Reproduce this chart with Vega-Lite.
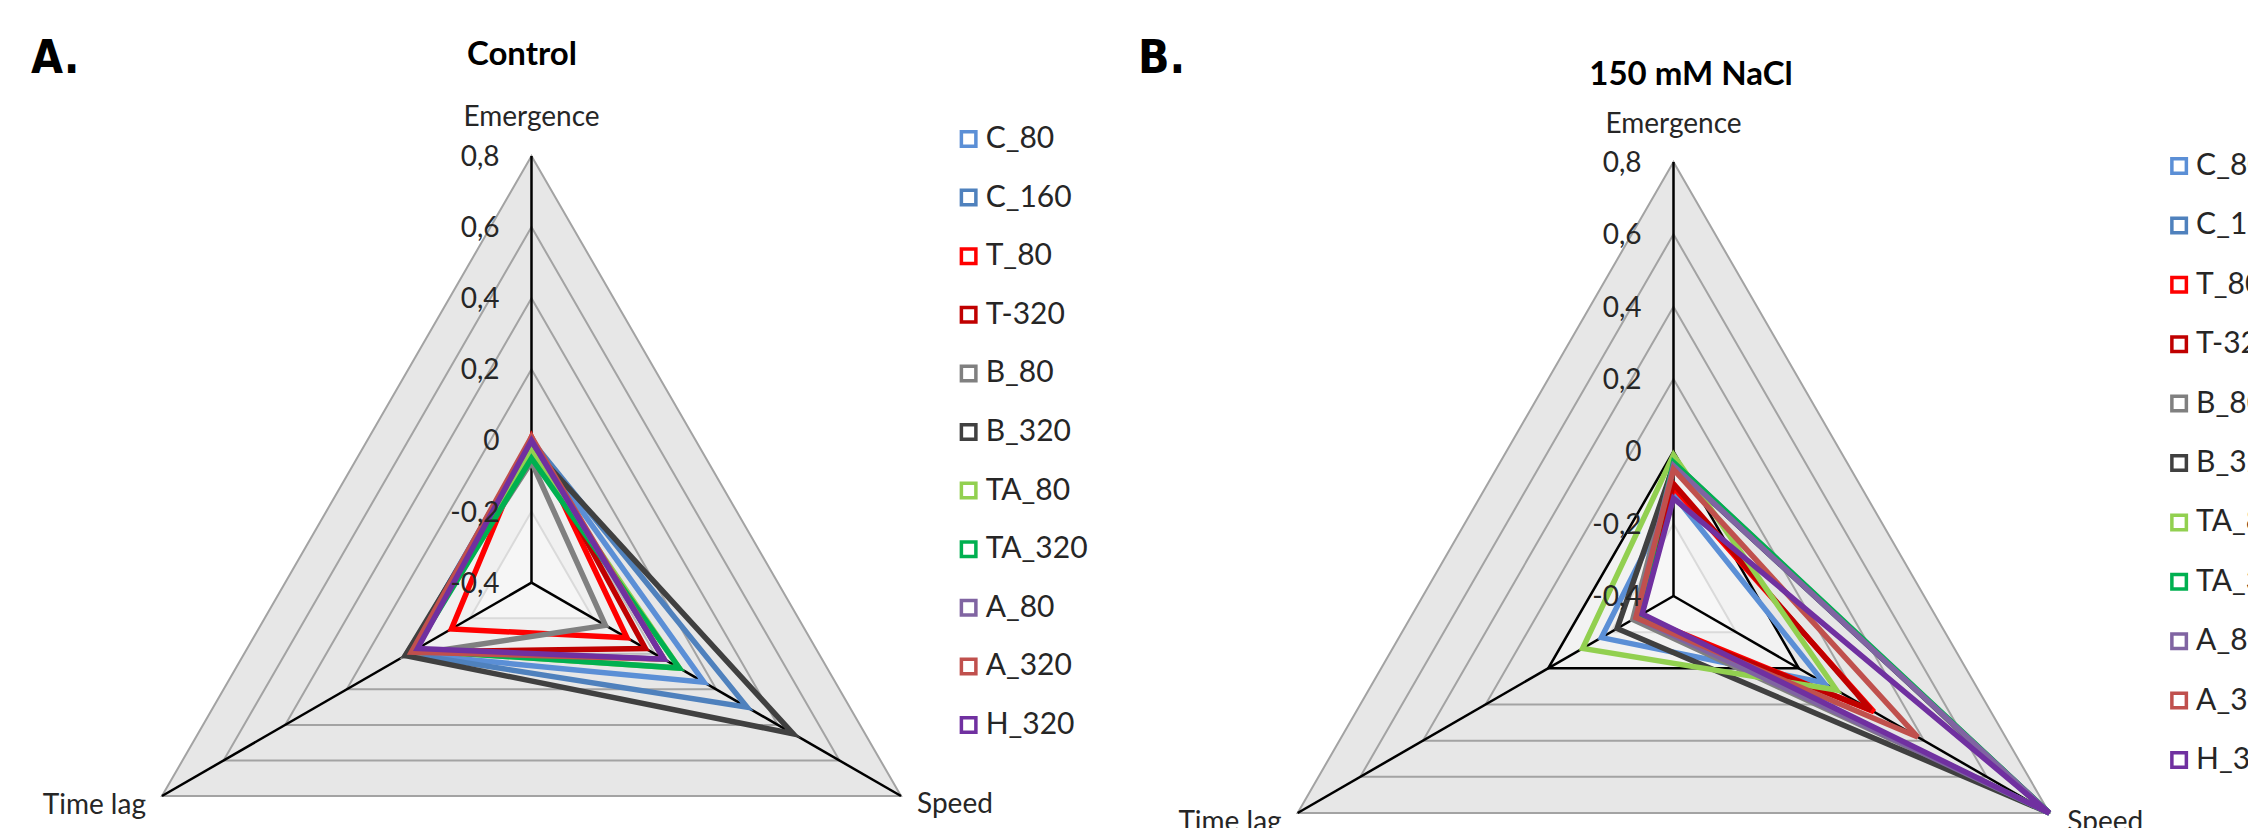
{
  "$schema": "https://vega.github.io/schema/vega-lite/v6.json",
  "padding": 0,
  "spacing": 0,
  "bounds": "flush",
  "config": {"view": {"stroke": null}, "font": "Lato"},
  "datasets": {
    "grid": [
      {"v": 0.8, "a": "Emergence"}, {"v": 0.8, "a": "Speed"}, {"v": 0.8, "a": "Time lag"},
      {"v": 0.6, "a": "Emergence"}, {"v": 0.6, "a": "Speed"}, {"v": 0.6, "a": "Time lag"},
      {"v": 0.4, "a": "Emergence"}, {"v": 0.4, "a": "Speed"}, {"v": 0.4, "a": "Time lag"},
      {"v": 0.2, "a": "Emergence"}, {"v": 0.2, "a": "Speed"}, {"v": 0.2, "a": "Time lag"},
      {"v": 0.0, "a": "Emergence"}, {"v": 0.0, "a": "Speed"}, {"v": 0.0, "a": "Time lag"},
      {"v": -0.2, "a": "Emergence"}, {"v": -0.2, "a": "Speed"}, {"v": -0.2, "a": "Time lag"}
    ],
    "axes": [{"a": "Emergence", "v": 0.8}, {"a": "Speed", "v": 0.8}, {"a": "Time lag", "v": 0.8}],
    "ticks": [
      {"v": 0.8, "lab": "0,8"}, {"v": 0.6, "lab": "0,6"}, {"v": 0.4, "lab": "0,4"},
      {"v": 0.2, "lab": "0,2"}, {"v": 0.0, "lab": "0"}, {"v": -0.2, "lab": "-0,2"}, {"v": -0.4, "lab": "-0,4"}
    ],
    "leg": [
      {"s": "C_80"}, {"s": "C_160"}, {"s": "T_80"}, {"s": "T-320"}, {"s": "B_80"}, {"s": "B_320"},
      {"s": "TA_80"}, {"s": "TA_320"}, {"s": "A_80"}, {"s": "A_320"}, {"s": "H_320"}
    ],
    "dA": [
      {"s": "C_80", "a": "Emergence", "v": 0.0}, {"s": "C_80", "a": "Speed", "v": 0.16}, {"s": "C_80", "a": "Time lag", "v": 0.0},
      {"s": "C_160", "a": "Emergence", "v": 0.0}, {"s": "C_160", "a": "Speed", "v": 0.3}, {"s": "C_160", "a": "Time lag", "v": 0.0},
      {"s": "T_80", "a": "Emergence", "v": 0.01}, {"s": "T_80", "a": "Speed", "v": -0.09}, {"s": "T_80", "a": "Time lag", "v": -0.14},
      {"s": "T-320", "a": "Emergence", "v": 0.0}, {"s": "T-320", "a": "Speed", "v": -0.03}, {"s": "T-320", "a": "Time lag", "v": -0.01},
      {"s": "B_80", "a": "Emergence", "v": -0.06}, {"s": "B_80", "a": "Speed", "v": -0.16}, {"s": "B_80", "a": "Time lag", "v": 0.01},
      {"s": "B_320", "a": "Emergence", "v": -0.02}, {"s": "B_320", "a": "Speed", "v": 0.45}, {"s": "B_320", "a": "Time lag", "v": 0.01},
      {"s": "TA_80", "a": "Emergence", "v": -0.03}, {"s": "TA_80", "a": "Speed", "v": 0.08}, {"s": "TA_80", "a": "Time lag", "v": -0.02},
      {"s": "TA_320", "a": "Emergence", "v": -0.05}, {"s": "TA_320", "a": "Speed", "v": 0.08}, {"s": "TA_320", "a": "Time lag", "v": -0.02},
      {"s": "A_80", "a": "Emergence", "v": 0.0}, {"s": "A_80", "a": "Speed", "v": 0.03}, {"s": "A_80", "a": "Time lag", "v": -0.02},
      {"s": "A_320", "a": "Emergence", "v": 0.01}, {"s": "A_320", "a": "Speed", "v": 0.03}, {"s": "A_320", "a": "Time lag", "v": -0.01},
      {"s": "H_320", "a": "Emergence", "v": 0.0}, {"s": "H_320", "a": "Speed", "v": 0.03}, {"s": "H_320", "a": "Time lag", "v": -0.03}
    ],
    "dB": [
      {"s": "C_80", "a": "Emergence", "v": -0.12}, {"s": "C_80", "a": "Speed", "v": 0.08}, {"s": "C_80", "a": "Time lag", "v": -0.17},
      {"s": "C_160", "a": "Emergence", "v": -0.04}, {"s": "C_160", "a": "Speed", "v": 0.8}, {"s": "C_160", "a": "Time lag", "v": -0.28},
      {"s": "T_80", "a": "Emergence", "v": -0.1}, {"s": "T_80", "a": "Speed", "v": 0.24}, {"s": "T_80", "a": "Time lag", "v": -0.29},
      {"s": "T-320", "a": "Emergence", "v": -0.09}, {"s": "T-320", "a": "Speed", "v": 0.23}, {"s": "T-320", "a": "Time lag", "v": -0.28},
      {"s": "B_80", "a": "Emergence", "v": -0.03}, {"s": "B_80", "a": "Speed", "v": 0.78}, {"s": "B_80", "a": "Time lag", "v": -0.27},
      {"s": "B_320", "a": "Emergence", "v": -0.04}, {"s": "B_320", "a": "Speed", "v": 0.8}, {"s": "B_320", "a": "Time lag", "v": -0.22},
      {"s": "TA_80", "a": "Emergence", "v": -0.01}, {"s": "TA_80", "a": "Speed", "v": 0.12}, {"s": "TA_80", "a": "Time lag", "v": -0.11},
      {"s": "TA_320", "a": "Emergence", "v": -0.03}, {"s": "TA_320", "a": "Speed", "v": 0.8}, {"s": "TA_320", "a": "Time lag", "v": -0.29},
      {"s": "A_80", "a": "Emergence", "v": -0.04}, {"s": "A_80", "a": "Speed", "v": 0.8}, {"s": "A_80", "a": "Time lag", "v": -0.28},
      {"s": "A_320", "a": "Emergence", "v": -0.05}, {"s": "A_320", "a": "Speed", "v": 0.38}, {"s": "A_320", "a": "Time lag", "v": -0.28},
      {"s": "H_320", "a": "Emergence", "v": -0.13}, {"s": "H_320", "a": "Speed", "v": 0.8}, {"s": "H_320", "a": "Time lag", "v": -0.3}
    ]
  },
  "hconcat": [
    {
      "width": 1124,
      "height": 828,
      "resolve": {"scale": {"y": "independent"}},
      "layer": [
        {
          "layer": [
            {
              "data": {"name": "grid"},
              "transform": [
                {"filter": "datum.v >= 0.1"},
                {"calculate": "datum.a==='Emergence'?90:(datum.a==='Speed'?-30:210)", "as": "ang"},
                {"calculate": "datum.a==='Emergence'?0:(datum.a==='Speed'?1:2)", "as": "k"},
                {"calculate": "(datum.v+0.4)/1.2*cos(datum.ang*PI/180)", "as": "px"},
                {"calculate": "(datum.v+0.4)/1.2*sin(datum.ang*PI/180)", "as": "py"}
              ],
              "mark": {"type": "line", "interpolate": "linear-closed", "fill": "#e7e7e7", "stroke": "#a3a3a3", "strokeWidth": 2},
              "encoding": {
                "x": {"field": "px", "type": "quantitative", "scale": {"domain": [-1.2456, 1.3886], "nice": false, "zero": false}, "axis": null},
                "y": {"field": "py", "type": "quantitative", "scale": {"domain": [-0.5749, 1.3656], "nice": false, "zero": false}, "axis": null},
                "detail": {"field": "v", "type": "nominal"},
                "order": {"field": "k", "type": "quantitative"}
              }
            },
            {
              "data": {"name": "grid"},
              "transform": [
                {"filter": "datum.v > -0.1 && datum.v < 0.1"},
                {"calculate": "datum.a==='Emergence'?90:(datum.a==='Speed'?-30:210)", "as": "ang"},
                {"calculate": "datum.a==='Emergence'?0:(datum.a==='Speed'?1:2)", "as": "k"},
                {"calculate": "(datum.v+0.4)/1.2*cos(datum.ang*PI/180)", "as": "px"},
                {"calculate": "(datum.v+0.4)/1.2*sin(datum.ang*PI/180)", "as": "py"}
              ],
              "mark": {"type": "line", "interpolate": "linear-closed", "fill": "#f0f0f0", "stroke": "#bdbdbd", "strokeWidth": 2},
              "encoding": {
                "x": {"field": "px", "type": "quantitative", "scale": {"domain": [-1.2456, 1.3886], "nice": false, "zero": false}, "axis": null},
                "y": {"field": "py", "type": "quantitative", "scale": {"domain": [-0.5749, 1.3656], "nice": false, "zero": false}, "axis": null},
                "order": {"field": "k", "type": "quantitative"}
              }
            },
            {
              "data": {"name": "grid"},
              "transform": [
                {"filter": "datum.v < -0.1"},
                {"calculate": "datum.a==='Emergence'?90:(datum.a==='Speed'?-30:210)", "as": "ang"},
                {"calculate": "datum.a==='Emergence'?0:(datum.a==='Speed'?1:2)", "as": "k"},
                {"calculate": "(datum.v+0.4)/1.2*cos(datum.ang*PI/180)", "as": "px"},
                {"calculate": "(datum.v+0.4)/1.2*sin(datum.ang*PI/180)", "as": "py"}
              ],
              "mark": {"type": "line", "interpolate": "linear-closed", "fill": "#f6f6f6", "stroke": "#dadada", "strokeWidth": 2},
              "encoding": {
                "x": {"field": "px", "type": "quantitative", "scale": {"domain": [-1.2456, 1.3886], "nice": false, "zero": false}, "axis": null},
                "y": {"field": "py", "type": "quantitative", "scale": {"domain": [-0.5749, 1.3656], "nice": false, "zero": false}, "axis": null},
                "order": {"field": "k", "type": "quantitative"}
              }
            },
            {
              "data": {"name": "axes"},
              "transform": [
                {"calculate": "datum.a==='Emergence'?90:(datum.a==='Speed'?-30:210)", "as": "ang"},
                {"calculate": "(datum.v+0.4)/1.2*cos(datum.ang*PI/180)", "as": "px"},
                {"calculate": "(datum.v+0.4)/1.2*sin(datum.ang*PI/180)", "as": "py"},
                {"calculate": "0", "as": "zero"}
              ],
              "mark": {"type": "rule", "color": "#000000", "strokeWidth": 2.5},
              "encoding": {
                "x": {"field": "px", "type": "quantitative", "scale": {"domain": [-1.2456, 1.3886], "nice": false, "zero": false}, "axis": null},
                "y": {"field": "py", "type": "quantitative", "scale": {"domain": [-0.5749, 1.3656], "nice": false, "zero": false}, "axis": null},
                "x2": {"field": "zero"},
                "y2": {"field": "zero"}
              }
            },
            {
              "data": {"name": "dA"},
              "transform": [
                {"calculate": "datum.a==='Emergence'?90:(datum.a==='Speed'?-30:210)", "as": "ang"},
                {"calculate": "datum.a==='Emergence'?0:(datum.a==='Speed'?1:2)", "as": "k"},
                {"calculate": "(datum.v+0.4)/1.2*cos(datum.ang*PI/180)", "as": "px"},
                {"calculate": "(datum.v+0.4)/1.2*sin(datum.ang*PI/180)", "as": "py"}
              ],
              "mark": {"type": "line", "interpolate": "linear-closed", "strokeWidth": 5.5, "strokeJoin": "miter", "strokeMiterLimit": 4},
              "encoding": {
                "x": {"field": "px", "type": "quantitative", "scale": {"domain": [-1.2456, 1.3886], "nice": false, "zero": false}, "axis": null},
                "y": {"field": "py", "type": "quantitative", "scale": {"domain": [-0.5749, 1.3656], "nice": false, "zero": false}, "axis": null},
                "color": {"field": "s", "type": "nominal", "legend": null, "scale": {"domain": ["C_80", "C_160", "T_80", "T-320", "B_80", "B_320", "TA_80", "TA_320", "A_80", "A_320", "H_320"], "range": ["#5b8fd6", "#4f81bd", "#ff0000", "#c00000", "#808080", "#404040", "#92d050", "#00b050", "#8064a2", "#c0504d", "#7030a0"]}},
                "order": {"field": "k", "type": "quantitative"}
              }
            },
            {
              "data": {"name": "ticks"},
              "transform": [{"calculate": "(datum.v+0.4)/1.2", "as": "py"}],
              "mark": {"type": "text", "align": "right", "baseline": "alphabetic", "dx": -32, "dy": 10, "fontSize": 28, "color": "#262626"},
              "encoding": {
                "x": {"datum": 0, "type": "quantitative", "scale": {"domain": [-1.2456, 1.3886], "nice": false, "zero": false}, "axis": null},
                "y": {"field": "py", "type": "quantitative", "scale": {"domain": [-0.5749, 1.3656], "nice": false, "zero": false}, "axis": null},
                "text": {"field": "lab"}
              }
            },
            {
              "data": {"name": "axes"},
              "transform": [{"filter": "datum.a==='Emergence'"}],
              "mark": {"type": "text", "align": "center", "baseline": "alphabetic", "dy": -30, "fontSize": 28, "color": "#262626"},
              "encoding": {
                "x": {"datum": 0, "type": "quantitative", "scale": {"domain": [-1.2456, 1.3886], "nice": false, "zero": false}, "axis": null},
                "y": {"datum": 1, "type": "quantitative", "scale": {"domain": [-0.5749, 1.3656], "nice": false, "zero": false}, "axis": null},
                "text": {"field": "a"}
              }
            },
            {
              "data": {"name": "axes"},
              "transform": [{"filter": "datum.a==='Time lag'"}],
              "mark": {"type": "text", "align": "right", "baseline": "alphabetic", "dx": -16, "dy": 18, "fontSize": 28, "color": "#262626"},
              "encoding": {
                "x": {"datum": -0.8660254, "type": "quantitative", "scale": {"domain": [-1.2456, 1.3886], "nice": false, "zero": false}, "axis": null},
                "y": {"datum": -0.5, "type": "quantitative", "scale": {"domain": [-0.5749, 1.3656], "nice": false, "zero": false}, "axis": null},
                "text": {"field": "a"}
              }
            },
            {
              "data": {"name": "axes"},
              "transform": [{"filter": "datum.a==='Speed'"}],
              "mark": {"type": "text", "align": "left", "baseline": "alphabetic", "dx": 16, "dy": 17, "fontSize": 28, "color": "#262626"},
              "encoding": {
                "x": {"datum": 0.8660254, "type": "quantitative", "scale": {"domain": [-1.2456, 1.3886], "nice": false, "zero": false}, "axis": null},
                "y": {"datum": -0.5, "type": "quantitative", "scale": {"domain": [-0.5749, 1.3656], "nice": false, "zero": false}, "axis": null},
                "text": {"field": "a"}
              }
            },
            {
              "data": {"values": [{"t": "Control"}]},
              "mark": {"type": "text", "align": "center", "baseline": "alphabetic", "fontSize": 33, "fontWeight": "bold", "color": "#000000"},
              "encoding": {
                "x": {"datum": -0.0223, "type": "quantitative", "scale": {"domain": [-1.2456, 1.3886], "nice": false, "zero": false}, "axis": null},
                "y": {"datum": 1.2133, "type": "quantitative", "scale": {"domain": [-0.5749, 1.3656], "nice": false, "zero": false}, "axis": null},
                "text": {"field": "t"}
              }
            },
            {
              "data": {"values": [{"t": "A."}]},
              "mark": {"type": "text", "align": "left", "baseline": "alphabetic", "fontSize": 46, "fontWeight": "bold", "font": "DejaVu Sans Condensed, Liberation Sans, DejaVu Sans, sans-serif", "color": "#000000"},
              "encoding": {
                "x": {"datum": -1.173, "type": "quantitative", "scale": {"domain": [-1.2456, 1.3886], "nice": false, "zero": false}, "axis": null},
                "y": {"datum": 1.1945, "type": "quantitative", "scale": {"domain": [-0.5749, 1.3656], "nice": false, "zero": false}, "axis": null},
                "text": {"field": "t"}
              }
            }
          ]
        },
        {
          "data": {"name": "leg"},
          "layer": [
            {
              "mark": {"type": "point", "shape": "square", "size": 210, "filled": false, "fill": "#ffffff", "strokeWidth": 3.5, "opacity": 1},
              "encoding": {
                "x": {"datum": 1.0245, "type": "quantitative", "scale": {"domain": [-1.2456, 1.3886], "nice": false, "zero": false}, "axis": null},
                "y": {"field": "s", "type": "nominal", "sort": null, "scale": {"type": "point", "domain": ["C_80", "C_160", "T_80", "T-320", "B_80", "B_320", "TA_80", "TA_320", "A_80", "A_320", "H_320"], "range": [139, 725], "padding": 0}, "axis": null},
                "color": {"field": "s", "type": "nominal", "legend": null, "scale": {"domain": ["C_80", "C_160", "T_80", "T-320", "B_80", "B_320", "TA_80", "TA_320", "A_80", "A_320", "H_320"], "range": ["#5b8fd6", "#4f81bd", "#ff0000", "#c00000", "#808080", "#404040", "#92d050", "#00b050", "#8064a2", "#c0504d", "#7030a0"]}}
              }
            },
            {
              "mark": {"type": "text", "align": "left", "baseline": "middle", "dx": 17, "fontSize": 30, "color": "#262626"},
              "encoding": {
                "x": {"datum": 1.0245, "type": "quantitative", "scale": {"domain": [-1.2456, 1.3886], "nice": false, "zero": false}, "axis": null},
                "y": {"field": "s", "type": "nominal", "sort": null, "scale": {"type": "point", "domain": ["C_80", "C_160", "T_80", "T-320", "B_80", "B_320", "TA_80", "TA_320", "A_80", "A_320", "H_320"], "range": [139, 725], "padding": 0}, "axis": null},
                "text": {"field": "s"}
              }
            }
          ]
        }
      ]
    },
    {
      "width": 1124,
      "height": 828,
      "resolve": {"scale": {"y": "independent"}},
      "layer": [
        {
          "layer": [
            {
              "data": {"name": "grid"},
              "transform": [
                {"filter": "datum.v >= 0.1"},
                {"calculate": "datum.a==='Emergence'?90:(datum.a==='Speed'?-30:210)", "as": "ang"},
                {"calculate": "datum.a==='Emergence'?0:(datum.a==='Speed'?1:2)", "as": "k"},
                {"calculate": "(datum.v+0.4)/1.2*cos(datum.ang*PI/180)", "as": "px"},
                {"calculate": "(datum.v+0.4)/1.2*sin(datum.ang*PI/180)", "as": "py"}
              ],
              "mark": {"type": "line", "interpolate": "linear-closed", "fill": "#e7e7e7", "stroke": "#a3a3a3", "strokeWidth": 2},
              "encoding": {
                "x": {"field": "px", "type": "quantitative", "scale": {"domain": [-1.2661, 1.3237], "nice": false, "zero": false}, "axis": null},
                "y": {"field": "py", "type": "quantitative", "scale": {"domain": [-0.5346, 1.3733], "nice": false, "zero": false}, "axis": null},
                "detail": {"field": "v", "type": "nominal"},
                "order": {"field": "k", "type": "quantitative"}
              }
            },
            {
              "data": {"name": "grid"},
              "transform": [
                {"filter": "datum.v > -0.1 && datum.v < 0.1"},
                {"calculate": "datum.a==='Emergence'?90:(datum.a==='Speed'?-30:210)", "as": "ang"},
                {"calculate": "datum.a==='Emergence'?0:(datum.a==='Speed'?1:2)", "as": "k"},
                {"calculate": "(datum.v+0.4)/1.2*cos(datum.ang*PI/180)", "as": "px"},
                {"calculate": "(datum.v+0.4)/1.2*sin(datum.ang*PI/180)", "as": "py"}
              ],
              "mark": {"type": "line", "interpolate": "linear-closed", "fill": "#f2f2f2", "stroke": "#000000", "strokeWidth": 2.5},
              "encoding": {
                "x": {"field": "px", "type": "quantitative", "scale": {"domain": [-1.2661, 1.3237], "nice": false, "zero": false}, "axis": null},
                "y": {"field": "py", "type": "quantitative", "scale": {"domain": [-0.5346, 1.3733], "nice": false, "zero": false}, "axis": null},
                "order": {"field": "k", "type": "quantitative"}
              }
            },
            {
              "data": {"name": "grid"},
              "transform": [
                {"filter": "datum.v < -0.1"},
                {"calculate": "datum.a==='Emergence'?90:(datum.a==='Speed'?-30:210)", "as": "ang"},
                {"calculate": "datum.a==='Emergence'?0:(datum.a==='Speed'?1:2)", "as": "k"},
                {"calculate": "(datum.v+0.4)/1.2*cos(datum.ang*PI/180)", "as": "px"},
                {"calculate": "(datum.v+0.4)/1.2*sin(datum.ang*PI/180)", "as": "py"}
              ],
              "mark": {"type": "line", "interpolate": "linear-closed", "fill": "#f7f7f7", "stroke": "#dadada", "strokeWidth": 2},
              "encoding": {
                "x": {"field": "px", "type": "quantitative", "scale": {"domain": [-1.2661, 1.3237], "nice": false, "zero": false}, "axis": null},
                "y": {"field": "py", "type": "quantitative", "scale": {"domain": [-0.5346, 1.3733], "nice": false, "zero": false}, "axis": null},
                "order": {"field": "k", "type": "quantitative"}
              }
            },
            {
              "data": {"name": "axes"},
              "transform": [
                {"calculate": "datum.a==='Emergence'?90:(datum.a==='Speed'?-30:210)", "as": "ang"},
                {"calculate": "(datum.v+0.4)/1.2*cos(datum.ang*PI/180)", "as": "px"},
                {"calculate": "(datum.v+0.4)/1.2*sin(datum.ang*PI/180)", "as": "py"},
                {"calculate": "0", "as": "zero"}
              ],
              "mark": {"type": "rule", "color": "#000000", "strokeWidth": 2.5},
              "encoding": {
                "x": {"field": "px", "type": "quantitative", "scale": {"domain": [-1.2661, 1.3237], "nice": false, "zero": false}, "axis": null},
                "y": {"field": "py", "type": "quantitative", "scale": {"domain": [-0.5346, 1.3733], "nice": false, "zero": false}, "axis": null},
                "x2": {"field": "zero"},
                "y2": {"field": "zero"}
              }
            },
            {
              "data": {"name": "dB"},
              "transform": [
                {"calculate": "datum.a==='Emergence'?90:(datum.a==='Speed'?-30:210)", "as": "ang"},
                {"calculate": "datum.a==='Emergence'?0:(datum.a==='Speed'?1:2)", "as": "k"},
                {"calculate": "(datum.v+0.4)/1.2*cos(datum.ang*PI/180)", "as": "px"},
                {"calculate": "(datum.v+0.4)/1.2*sin(datum.ang*PI/180)", "as": "py"}
              ],
              "mark": {"type": "line", "interpolate": "linear-closed", "strokeWidth": 5.5, "strokeJoin": "miter", "strokeMiterLimit": 4},
              "encoding": {
                "x": {"field": "px", "type": "quantitative", "scale": {"domain": [-1.2661, 1.3237], "nice": false, "zero": false}, "axis": null},
                "y": {"field": "py", "type": "quantitative", "scale": {"domain": [-0.5346, 1.3733], "nice": false, "zero": false}, "axis": null},
                "color": {"field": "s", "type": "nominal", "legend": null, "scale": {"domain": ["C_80", "C_160", "T_80", "T-320", "B_80", "B_320", "TA_80", "TA_320", "A_80", "A_320", "H_320"], "range": ["#5b8fd6", "#4f81bd", "#ff0000", "#c00000", "#808080", "#404040", "#92d050", "#00b050", "#8064a2", "#c0504d", "#7030a0"]}},
                "order": {"field": "k", "type": "quantitative"}
              }
            },
            {
              "data": {"name": "ticks"},
              "transform": [{"calculate": "(datum.v+0.4)/1.2", "as": "py"}],
              "mark": {"type": "text", "align": "right", "baseline": "alphabetic", "dx": -32, "dy": 10, "fontSize": 28, "color": "#262626"},
              "encoding": {
                "x": {"datum": 0, "type": "quantitative", "scale": {"domain": [-1.2661, 1.3237], "nice": false, "zero": false}, "axis": null},
                "y": {"field": "py", "type": "quantitative", "scale": {"domain": [-0.5346, 1.3733], "nice": false, "zero": false}, "axis": null},
                "text": {"field": "lab"}
              }
            },
            {
              "data": {"name": "axes"},
              "transform": [{"filter": "datum.a==='Emergence'"}],
              "mark": {"type": "text", "align": "center", "baseline": "alphabetic", "dy": -29, "fontSize": 28, "color": "#262626"},
              "encoding": {
                "x": {"datum": 0, "type": "quantitative", "scale": {"domain": [-1.2661, 1.3237], "nice": false, "zero": false}, "axis": null},
                "y": {"datum": 1, "type": "quantitative", "scale": {"domain": [-0.5346, 1.3733], "nice": false, "zero": false}, "axis": null},
                "text": {"field": "a"}
              }
            },
            {
              "data": {"name": "axes"},
              "transform": [{"filter": "datum.a==='Time lag'"}],
              "mark": {"type": "text", "align": "right", "baseline": "alphabetic", "dx": -16, "dy": 18, "fontSize": 28, "color": "#262626", "clip": true},
              "encoding": {
                "x": {"datum": -0.8660254, "type": "quantitative", "scale": {"domain": [-1.2661, 1.3237], "nice": false, "zero": false}, "axis": null},
                "y": {"datum": -0.5, "type": "quantitative", "scale": {"domain": [-0.5346, 1.3733], "nice": false, "zero": false}, "axis": null},
                "text": {"field": "a"}
              }
            },
            {
              "data": {"name": "axes"},
              "transform": [{"filter": "datum.a==='Speed'"}],
              "mark": {"type": "text", "align": "left", "baseline": "alphabetic", "dx": 18, "dy": 18, "fontSize": 28, "color": "#262626", "clip": true},
              "encoding": {
                "x": {"datum": 0.8660254, "type": "quantitative", "scale": {"domain": [-1.2661, 1.3237], "nice": false, "zero": false}, "axis": null},
                "y": {"datum": -0.5, "type": "quantitative", "scale": {"domain": [-0.5346, 1.3733], "nice": false, "zero": false}, "axis": null},
                "text": {"field": "a"}
              }
            },
            {
              "data": {"values": [{"t": "150 mM NaCl"}]},
              "mark": {"type": "text", "align": "center", "baseline": "alphabetic", "fontSize": 33, "fontWeight": "bold", "color": "#000000"},
              "encoding": {
                "x": {"datum": 0.0403, "type": "quantitative", "scale": {"domain": [-1.2661, 1.3237], "nice": false, "zero": false}, "axis": null},
                "y": {"datum": 1.1774, "type": "quantitative", "scale": {"domain": [-0.5346, 1.3733], "nice": false, "zero": false}, "axis": null},
                "text": {"field": "t"}
              }
            },
            {
              "data": {"values": [{"t": "B."}]},
              "mark": {"type": "text", "align": "left", "baseline": "alphabetic", "fontSize": 46, "fontWeight": "bold", "font": "DejaVu Sans Condensed, Liberation Sans, DejaVu Sans, sans-serif", "color": "#000000"},
              "encoding": {
                "x": {"datum": -1.2339, "type": "quantitative", "scale": {"domain": [-1.2661, 1.3237], "nice": false, "zero": false}, "axis": null},
                "y": {"datum": 1.2051, "type": "quantitative", "scale": {"domain": [-0.5346, 1.3733], "nice": false, "zero": false}, "axis": null},
                "text": {"field": "t"}
              }
            }
          ]
        },
        {
          "data": {"name": "leg"},
          "layer": [
            {
              "mark": {"type": "point", "shape": "square", "size": 210, "filled": false, "fill": "#ffffff", "strokeWidth": 3.5, "opacity": 1, "clip": true},
              "encoding": {
                "x": {"datum": 1.165, "type": "quantitative", "scale": {"domain": [-1.2661, 1.3237], "nice": false, "zero": false}, "axis": null},
                "y": {"field": "s", "type": "nominal", "sort": null, "scale": {"type": "point", "domain": ["C_80", "C_160", "T_80", "T-320", "B_80", "B_320", "TA_80", "TA_320", "A_80", "A_320", "H_320"], "range": [166, 760], "padding": 0}, "axis": null},
                "color": {"field": "s", "type": "nominal", "legend": null, "scale": {"domain": ["C_80", "C_160", "T_80", "T-320", "B_80", "B_320", "TA_80", "TA_320", "A_80", "A_320", "H_320"], "range": ["#5b8fd6", "#4f81bd", "#ff0000", "#c00000", "#808080", "#404040", "#92d050", "#00b050", "#8064a2", "#c0504d", "#7030a0"]}}
              }
            },
            {
              "mark": {"type": "text", "align": "left", "baseline": "middle", "dx": 17, "fontSize": 30, "color": "#262626", "clip": true},
              "encoding": {
                "x": {"datum": 1.165, "type": "quantitative", "scale": {"domain": [-1.2661, 1.3237], "nice": false, "zero": false}, "axis": null},
                "y": {"field": "s", "type": "nominal", "sort": null, "scale": {"type": "point", "domain": ["C_80", "C_160", "T_80", "T-320", "B_80", "B_320", "TA_80", "TA_320", "A_80", "A_320", "H_320"], "range": [166, 760], "padding": 0}, "axis": null},
                "text": {"field": "s"}
              }
            }
          ]
        }
      ]
    }
  ]
}
